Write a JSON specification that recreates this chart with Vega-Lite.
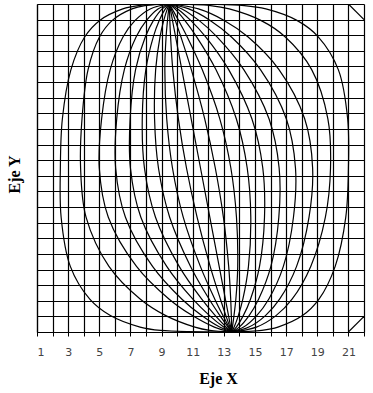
{
  "$schema": "https://vega.github.io/schema/vega-lite/v6.json",
  "width": 327,
  "height": 328,
  "autosize": {"type": "none"},
  "padding": {"left": 37, "top": 4, "right": 9, "bottom": 61},
  "background": "white",
  "config": {"view": {"stroke": null}},
  "data": {"values": [
    {"c":"L1","o":0,"x":9.5,"y":22},{"c":"L1","o":1,"x":7.51,"y":21.895},{"c":"L1","o":2,"x":6.51,"y":21.685},{"c":"L1","o":3,"x":5.03,"y":20.95},{"c":"L1","o":4,"x":4.07,"y":19.9},{"c":"L1","o":5,"x":3.18,"y":17.8},{"c":"L1","o":6,"x":2.63,"y":14.65},{"c":"L1","o":7,"x":2.5,"y":11.5},{"c":"L1","o":8,"x":2.55,"y":8.35},{"c":"L1","o":9,"x":3.14,"y":5.2},{"c":"L1","o":10,"x":4.39,"y":3.1},{"c":"L1","o":11,"x":5.71,"y":2.05},{"c":"L1","o":12,"x":7.62,"y":1.315},{"c":"L1","o":13,"x":8.94,"y":1.105},{"c":"L1","o":14,"x":13.5,"y":1},
    {"c":"L2","o":0,"x":9.5,"y":22},{"c":"L2","o":1,"x":7.93,"y":21.895},{"c":"L2","o":2,"x":7.1,"y":21.685},{"c":"L2","o":3,"x":5.84,"y":20.95},{"c":"L2","o":4,"x":5.02,"y":19.9},{"c":"L2","o":5,"x":4.28,"y":17.8},{"c":"L2","o":6,"x":3.89,"y":14.65},{"c":"L2","o":7,"x":3.8,"y":11.5},{"c":"L2","o":8,"x":4.15,"y":8.35},{"c":"L2","o":9,"x":5.62,"y":5.2},{"c":"L2","o":10,"x":7.64,"y":3.1},{"c":"L2","o":11,"x":9.27,"y":2.05},{"c":"L2","o":12,"x":11.14,"y":1.315},{"c":"L2","o":13,"x":12.1,"y":1.105},{"c":"L2","o":14,"x":13.5,"y":1},
    {"c":"L3","o":0,"x":9.5,"y":22},{"c":"L3","o":1,"x":8.27,"y":21.685},{"c":"L3","o":2,"x":7.3,"y":20.95},{"c":"L3","o":3,"x":6.53,"y":19.9},{"c":"L3","o":4,"x":5.7,"y":17.8},{"c":"L3","o":5,"x":5.15,"y":14.65},{"c":"L3","o":6,"x":5.0,"y":11.5},{"c":"L3","o":7,"x":5.58,"y":8.35},{"c":"L3","o":8,"x":7.39,"y":5.2},{"c":"L3","o":9,"x":9.49,"y":3.1},{"c":"L3","o":10,"x":10.98,"y":2.05},{"c":"L3","o":11,"x":12.39,"y":1.315},{"c":"L3","o":12,"x":13.5,"y":1},
    {"c":"L4","o":0,"x":9.5,"y":22},{"c":"L4","o":1,"x":8.77,"y":21.685},{"c":"L4","o":2,"x":8.03,"y":20.95},{"c":"L4","o":3,"x":7.37,"y":19.9},{"c":"L4","o":4,"x":6.61,"y":17.8},{"c":"L4","o":5,"x":6.12,"y":14.65},{"c":"L4","o":6,"x":6.05,"y":11.5},{"c":"L4","o":7,"x":6.68,"y":8.35},{"c":"L4","o":8,"x":8.42,"y":5.2},{"c":"L4","o":9,"x":10.31,"y":3.1},{"c":"L4","o":10,"x":11.58,"y":2.05},{"c":"L4","o":11,"x":12.73,"y":1.315},{"c":"L4","o":12,"x":13.5,"y":1},
    {"c":"L5","o":0,"x":9.5,"y":22},{"c":"L5","o":1,"x":9.04,"y":21.685},{"c":"L5","o":2,"x":8.48,"y":20.95},{"c":"L5","o":3,"x":7.96,"y":19.9},{"c":"L5","o":4,"x":7.33,"y":17.8},{"c":"L5","o":5,"x":6.98,"y":14.65},{"c":"L5","o":6,"x":7.0,"y":11.5},{"c":"L5","o":7,"x":7.67,"y":8.35},{"c":"L5","o":8,"x":9.33,"y":5.2},{"c":"L5","o":9,"x":11.01,"y":3.1},{"c":"L5","o":10,"x":12.08,"y":2.05},{"c":"L5","o":11,"x":12.99,"y":1.315},{"c":"L5","o":12,"x":13.5,"y":1},
    {"c":"L6","o":0,"x":9.5,"y":22},{"c":"L6","o":1,"x":9.24,"y":21.685},{"c":"L6","o":2,"x":8.85,"y":20.95},{"c":"L6","o":3,"x":8.47,"y":19.9},{"c":"L6","o":4,"x":7.99,"y":17.8},{"c":"L6","o":5,"x":7.76,"y":14.65},{"c":"L6","o":6,"x":7.9,"y":11.5},{"c":"L6","o":7,"x":8.61,"y":8.35},{"c":"L6","o":8,"x":10.13,"y":5.2},{"c":"L6","o":9,"x":11.58,"y":3.1},{"c":"L6","o":10,"x":12.45,"y":2.05},{"c":"L6","o":11,"x":13.15,"y":1.315},{"c":"L6","o":12,"x":13.5,"y":1},
    {"c":"L7","o":0,"x":9.5,"y":22},{"c":"L7","o":1,"x":9.37,"y":21.685},{"c":"L7","o":2,"x":9.14,"y":20.95},{"c":"L7","o":3,"x":8.9,"y":19.9},{"c":"L7","o":4,"x":8.62,"y":17.8},{"c":"L7","o":5,"x":8.55,"y":14.65},{"c":"L7","o":6,"x":8.8,"y":11.5},{"c":"L7","o":7,"x":9.52,"y":8.35},{"c":"L7","o":8,"x":10.86,"y":5.2},{"c":"L7","o":9,"x":12.06,"y":3.1},{"c":"L7","o":10,"x":12.75,"y":2.05},{"c":"L7","o":11,"x":13.27,"y":1.315},{"c":"L7","o":12,"x":13.5,"y":1},
    {"c":"L8","o":0,"x":9.5,"y":22},{"c":"L8","o":1,"x":9.46,"y":21.685},{"c":"L8","o":2,"x":9.38,"y":20.95},{"c":"L8","o":3,"x":9.29,"y":19.9},{"c":"L8","o":4,"x":9.21,"y":17.8},{"c":"L8","o":5,"x":9.33,"y":14.65},{"c":"L8","o":6,"x":9.7,"y":11.5},{"c":"L8","o":7,"x":10.39,"y":8.35},{"c":"L8","o":8,"x":11.49,"y":5.2},{"c":"L8","o":9,"x":12.42,"y":3.1},{"c":"L8","o":10,"x":12.94,"y":2.05},{"c":"L8","o":11,"x":13.33,"y":1.315},{"c":"L8","o":12,"x":13.5,"y":1},
    {"c":"L9","o":0,"x":9.5,"y":22},{"c":"L9","o":1,"x":9.51,"y":21.685},{"c":"L9","o":2,"x":9.53,"y":20.95},{"c":"L9","o":3,"x":9.58,"y":19.9},{"c":"L9","o":4,"x":9.72,"y":17.8},{"c":"L9","o":5,"x":10.08,"y":14.65},{"c":"L9","o":6,"x":10.6,"y":11.5},{"c":"L9","o":7,"x":11.28,"y":8.35},{"c":"L9","o":8,"x":12.12,"y":5.2},{"c":"L9","o":9,"x":12.78,"y":3.1},{"c":"L9","o":10,"x":13.13,"y":2.05},{"c":"L9","o":11,"x":13.39,"y":1.315},{"c":"L9","o":12,"x":13.5,"y":1},
    {"c":"L10","o":0,"x":9.5,"y":22},{"c":"L10","o":1,"x":11.5,"y":11.5},{"c":"L10","o":2,"x":13.5,"y":1},
    {"c":"R9","o":0,"x":9.5,"y":22},{"c":"R9","o":1,"x":9.62,"y":21.685},{"c":"R9","o":2,"x":9.88,"y":20.95},{"c":"R9","o":3,"x":10.24,"y":19.9},{"c":"R9","o":4,"x":10.91,"y":17.8},{"c":"R9","o":5,"x":11.77,"y":14.65},{"c":"R9","o":6,"x":12.45,"y":11.5},{"c":"R9","o":7,"x":12.97,"y":8.35},{"c":"R9","o":8,"x":13.31,"y":5.2},{"c":"R9","o":9,"x":13.44,"y":3.1},{"c":"R9","o":10,"x":13.48,"y":2.05},{"c":"R9","o":11,"x":13.5,"y":1.315},{"c":"R9","o":12,"x":13.5,"y":1},
    {"c":"R8","o":0,"x":9.5,"y":22},{"c":"R8","o":1,"x":9.68,"y":21.685},{"c":"R8","o":2,"x":10.09,"y":20.95},{"c":"R8","o":3,"x":10.64,"y":19.9},{"c":"R8","o":4,"x":11.61,"y":17.8},{"c":"R8","o":5,"x":12.74,"y":14.65},{"c":"R8","o":6,"x":13.45,"y":11.5},{"c":"R8","o":7,"x":13.81,"y":8.35},{"c":"R8","o":8,"x":13.89,"y":5.2},{"c":"R8","o":9,"x":13.77,"y":3.1},{"c":"R8","o":10,"x":13.65,"y":2.05},{"c":"R8","o":11,"x":13.55,"y":1.315},{"c":"R8","o":12,"x":13.5,"y":1},
    {"c":"R7","o":0,"x":9.5,"y":22},{"c":"R7","o":1,"x":9.86,"y":21.685},{"c":"R7","o":2,"x":10.49,"y":20.95},{"c":"R7","o":3,"x":11.25,"y":19.9},{"c":"R7","o":4,"x":12.49,"y":17.8},{"c":"R7","o":5,"x":13.8,"y":14.65},{"c":"R7","o":6,"x":14.5,"y":11.5},{"c":"R7","o":7,"x":14.73,"y":8.35},{"c":"R7","o":8,"x":14.58,"y":5.2},{"c":"R7","o":9,"x":14.22,"y":3.1},{"c":"R7","o":10,"x":13.93,"y":2.05},{"c":"R7","o":11,"x":13.66,"y":1.315},{"c":"R7","o":12,"x":13.5,"y":1},
    {"c":"R6","o":0,"x":9.5,"y":22},{"c":"R6","o":1,"x":10.03,"y":21.685},{"c":"R6","o":2,"x":10.87,"y":20.95},{"c":"R6","o":3,"x":11.83,"y":19.9},{"c":"R6","o":4,"x":13.31,"y":17.8},{"c":"R6","o":5,"x":14.8,"y":14.65},{"c":"R6","o":6,"x":15.5,"y":11.5},{"c":"R6","o":7,"x":15.61,"y":8.35},{"c":"R6","o":8,"x":15.29,"y":5.2},{"c":"R6","o":9,"x":14.71,"y":3.1},{"c":"R6","o":10,"x":14.25,"y":2.05},{"c":"R6","o":11,"x":13.8,"y":1.315},{"c":"R6","o":12,"x":13.5,"y":1},
    {"c":"R5","o":0,"x":9.5,"y":22},{"c":"R5","o":1,"x":10.31,"y":21.685},{"c":"R5","o":2,"x":11.4,"y":20.95},{"c":"R5","o":3,"x":12.56,"y":19.9},{"c":"R5","o":4,"x":14.28,"y":17.8},{"c":"R5","o":5,"x":15.9,"y":14.65},{"c":"R5","o":6,"x":16.55,"y":11.5},{"c":"R5","o":7,"x":16.53,"y":8.35},{"c":"R5","o":8,"x":16.02,"y":5.2},{"c":"R5","o":9,"x":15.23,"y":3.1},{"c":"R5","o":10,"x":14.62,"y":2.05},{"c":"R5","o":11,"x":13.99,"y":1.315},{"c":"R5","o":12,"x":13.5,"y":1},
    {"c":"R4","o":0,"x":9.5,"y":22},{"c":"R4","o":1,"x":10.75,"y":21.685},{"c":"R4","o":2,"x":12.12,"y":20.95},{"c":"R4","o":3,"x":13.47,"y":19.9},{"c":"R4","o":4,"x":15.35,"y":17.8},{"c":"R4","o":5,"x":17.01,"y":14.65},{"c":"R4","o":6,"x":17.6,"y":11.5},{"c":"R4","o":7,"x":17.47,"y":8.35},{"c":"R4","o":8,"x":16.82,"y":5.2},{"c":"R4","o":9,"x":15.88,"y":3.1},{"c":"R4","o":10,"x":15.11,"y":2.05},{"c":"R4","o":11,"x":14.27,"y":1.315},{"c":"R4","o":12,"x":13.5,"y":1},
    {"c":"R3","o":0,"x":9.5,"y":22},{"c":"R3","o":1,"x":11.37,"y":21.685},{"c":"R3","o":2,"x":13.02,"y":20.95},{"c":"R3","o":3,"x":14.54,"y":19.9},{"c":"R3","o":4,"x":16.54,"y":17.8},{"c":"R3","o":5,"x":18.19,"y":14.65},{"c":"R3","o":6,"x":18.7,"y":11.5},{"c":"R3","o":7,"x":18.47,"y":8.35},{"c":"R3","o":8,"x":17.67,"y":5.2},{"c":"R3","o":9,"x":16.58,"y":3.1},{"c":"R3","o":10,"x":15.67,"y":2.05},{"c":"R3","o":11,"x":14.61,"y":1.315},{"c":"R3","o":12,"x":13.5,"y":1},
    {"c":"R2","o":0,"x":9.5,"y":22},{"c":"R2","o":1,"x":12.14,"y":21.895},{"c":"R2","o":2,"x":13.35,"y":21.685},{"c":"R2","o":3,"x":15.37,"y":20.95},{"c":"R2","o":4,"x":16.93,"y":19.9},{"c":"R2","o":5,"x":18.64,"y":17.8},{"c":"R2","o":6,"x":19.68,"y":14.65},{"c":"R2","o":7,"x":19.85,"y":11.5},{"c":"R2","o":8,"x":19.52,"y":8.35},{"c":"R2","o":9,"x":18.58,"y":5.2},{"c":"R2","o":10,"x":17.38,"y":3.1},{"c":"R2","o":11,"x":16.35,"y":2.05},{"c":"R2","o":12,"x":15.09,"y":1.315},{"c":"R2","o":13,"x":13.5,"y":1},
    {"c":"R1","o":0,"x":9.5,"y":22},{"c":"R1","o":1,"x":14.31,"y":21.895},{"c":"R1","o":2,"x":15.7,"y":21.685},{"c":"R1","o":3,"x":17.69,"y":20.95},{"c":"R1","o":4,"x":19.06,"y":19.9},{"c":"R1","o":5,"x":20.35,"y":17.8},{"c":"R1","o":6,"x":20.95,"y":14.65},{"c":"R1","o":7,"x":21.0,"y":11.5},{"c":"R1","o":8,"x":20.83,"y":8.35},{"c":"R1","o":9,"x":20.15,"y":5.2},{"c":"R1","o":10,"x":19.11,"y":3.1},{"c":"R1","o":11,"x":18.05,"y":2.05},{"c":"R1","o":12,"x":16.47,"y":1.315},{"c":"R1","o":13,"x":15.44,"y":1.105},{"c":"R1","o":14,"x":13.5,"y":1},
    {"c":"D1","o":0,"x":21,"y":22},{"c":"D1","o":1,"x":22,"y":21},
    {"c":"D2","o":0,"x":21,"y":1},{"c":"D2","o":1,"x":22,"y":2}
  ]},
  "mark": {"type": "line", "color": "black", "strokeWidth": 1.2, "interpolate": "catmull-rom", "clip": true},
  "encoding": {
    "x": {"field": "x", "type": "quantitative",
      "scale": {"domain": [1, 22], "nice": false, "zero": false},
      "axis": {"values": [1,2,3,4,5,6,7,8,9,10,11,12,13,14,15,16,17,18,19,20,21,22],
        "labelExpr": "datum.value % 2 == 1 ? datum.label : ''",
        "grid": true, "gridColor": "black", "gridWidth": 1.2, "gridOpacity": 1,
        "domainColor": "black", "domainWidth": 1.2,
        "tickColor": "black", "tickSize": 4, "tickWidth": 1,
        "labelFont": "DejaVu Sans", "labelFontSize": 11, "labelColor": "#444", "labelPadding": 10,
        "title": "Eje X", "titleFont": "Liberation Serif", "titleFontSize": 16, "titleFontWeight": "bold", "titleColor": "black",
        "titleX": 181, "titleY": 46, "titleAlign": "center", "titleBaseline": "middle"}},
    "y": {"field": "y", "type": "quantitative",
      "scale": {"domain": [1, 22], "nice": false, "zero": false},
      "axis": {"values": [1,2,3,4,5,6,7,8,9,10,11,12,13,14,15,16,17,18,19,20,21,22],
        "labels": false, "ticks": false,
        "grid": true, "gridColor": "black", "gridWidth": 1.2, "gridOpacity": 1,
        "domainColor": "black", "domainWidth": 1.2,
        "title": "Eje Y", "titleFont": "Liberation Serif", "titleFontSize": 16, "titleFontWeight": "bold", "titleColor": "black",
        "titleX": -23, "titleY": 170, "titleAlign": "center", "titleBaseline": "middle", "titleAngle": -90}},
    "detail": {"field": "c", "type": "nominal"},
    "order": {"field": "o", "type": "quantitative"}
  }
}
